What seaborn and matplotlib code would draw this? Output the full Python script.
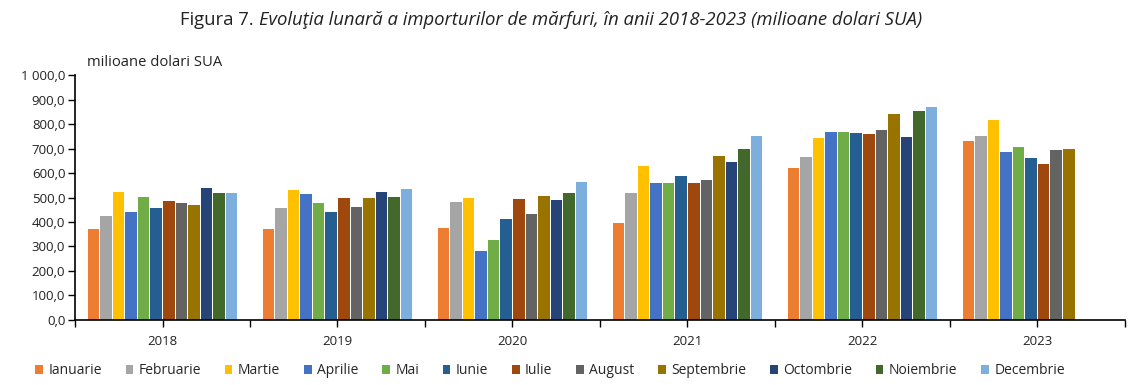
import numpy as np
import pandas as pd
import matplotlib
matplotlib.use("Agg")
import matplotlib.pyplot as plt
import seaborn as sns
from matplotlib.patches import Patch
from matplotlib.ticker import FuncFormatter, FixedLocator

years = ["2018", "2019", "2020", "2021", "2022", "2023"]
months = ["Ianuarie", "Februarie", "Martie", "Aprilie", "Mai", "Iunie", "Iulie",
          "August", "Septembrie", "Octombrie", "Noiembrie", "Decembrie"]
v2018 = [370, 424, 521, 439, 501, 456, 485, 476, 468, 537, 517, 517]
v2019 = [370, 456, 530, 513, 476, 440, 497, 460, 497, 521, 501, 534]
v2020 = [374, 481, 497, 280, 325, 411, 493, 431, 505, 489, 517, 562]
v2021 = [394, 517, 628, 558, 558, 587, 558, 571, 669, 644, 698, 751]
v2022 = [620, 665, 743, 767, 767, 763, 759, 776, 841, 747, 853, 870]
v2023 = [730, 751, 817, 685, 706, 661, 636, 694, 698, np.nan, np.nan, np.nan]
colors = ["#ED7D31", "#A5A5A5", "#FFC000", "#4472C4", "#70AD47", "#255E91",
          "#9E480E", "#636363", "#997300", "#264478", "#43682B", "#7CAFDD"]

rows = []
for y, vals in zip(years, [v2018, v2019, v2020, v2021, v2022, v2023]):
    for m, v in zip(months, vals):
        rows.append({"An": y, "Luna": m, "Valoare": v})
df = pd.DataFrame(rows)

sns.set_theme(style="white")
plt.rcParams["font.family"] = ["Open Sans", "DejaVu Sans"]

fig = plt.figure(figsize=(11.4, 3.85), dpi=100)
ax = fig.add_axes([0.0658, 0.169, 0.921, 0.636])

sns.barplot(data=df, x="An", y="Valoare", hue="Luna", order=years, hue_order=months,
            palette=colors, width=0.86, gap=0.08, saturation=1, errorbar=None,
            linewidth=0, ax=ax, legend=False)

ax.set_xlim(-0.5, 5.5)
ax.set_ylim(0, 1000)
ax.set_yticks(np.arange(0, 1001, 100))
ax.yaxis.set_major_formatter(FuncFormatter(
    lambda v, p: ("{:,.1f}".format(v)).replace(",", " ").replace(".", ",")))
ax.xaxis.set_minor_locator(FixedLocator(np.arange(-0.5, 6, 1)))
ax.tick_params(axis="x", which="both", length=5, width=1, color="black",
               direction="out", bottom=True, labelsize=9.5, pad=6)
ax.tick_params(axis="y", length=5, width=1, color="black", direction="out",
               left=True, labelsize=9.5, pad=2)
for s in ["top", "right"]:
    ax.spines[s].set_visible(False)
for s in ["left", "bottom"]:
    ax.spines[s].set_color("black")
    ax.spines[s].set_linewidth(1.2)
ax.set_xlabel("")
ax.set_ylabel("")
for lbl in ax.get_xticklabels() + ax.get_yticklabels():
    lbl.set_color("#222222")

fig.text(0.076, 0.838, "milioane dolari SUA", fontsize=10.6, color="#222222",
         ha="left", va="center")

# Title: normal prefix + italic remainder, centered as a whole
prefix = "Figura 7. "
rest = "Evoluţia lunară a importurilor de mărfuri, în anii 2018-2023 (milioane dolari SUA)"
fig.canvas.draw()
r = fig.canvas.get_renderer()
tp = fig.text(0, 0.948, prefix, fontsize=13.3, va="center", color="#222222")
tr = fig.text(0, 0.948, rest, fontsize=13.3, va="center", style="italic", color="#222222")
w1 = tp.get_window_extent(r).width / fig.bbox.width
w2 = tr.get_window_extent(r).width / fig.bbox.width
x0 = 0.4833 - (w1 + w2) / 2
tp.set_x(x0)
tr.set_x(x0 + w1)

handles = [Patch(facecolor=c, edgecolor="none") for c in colors]
fig.legend(handles, months, loc="center", ncol=12, bbox_to_anchor=(0.4825, 0.037),
           frameon=False, fontsize=10, handlelength=0.55,
           handleheight=0.55, handletextpad=0.4, columnspacing=1.7, borderaxespad=0)

fig.savefig("out.png", dpi=100)
